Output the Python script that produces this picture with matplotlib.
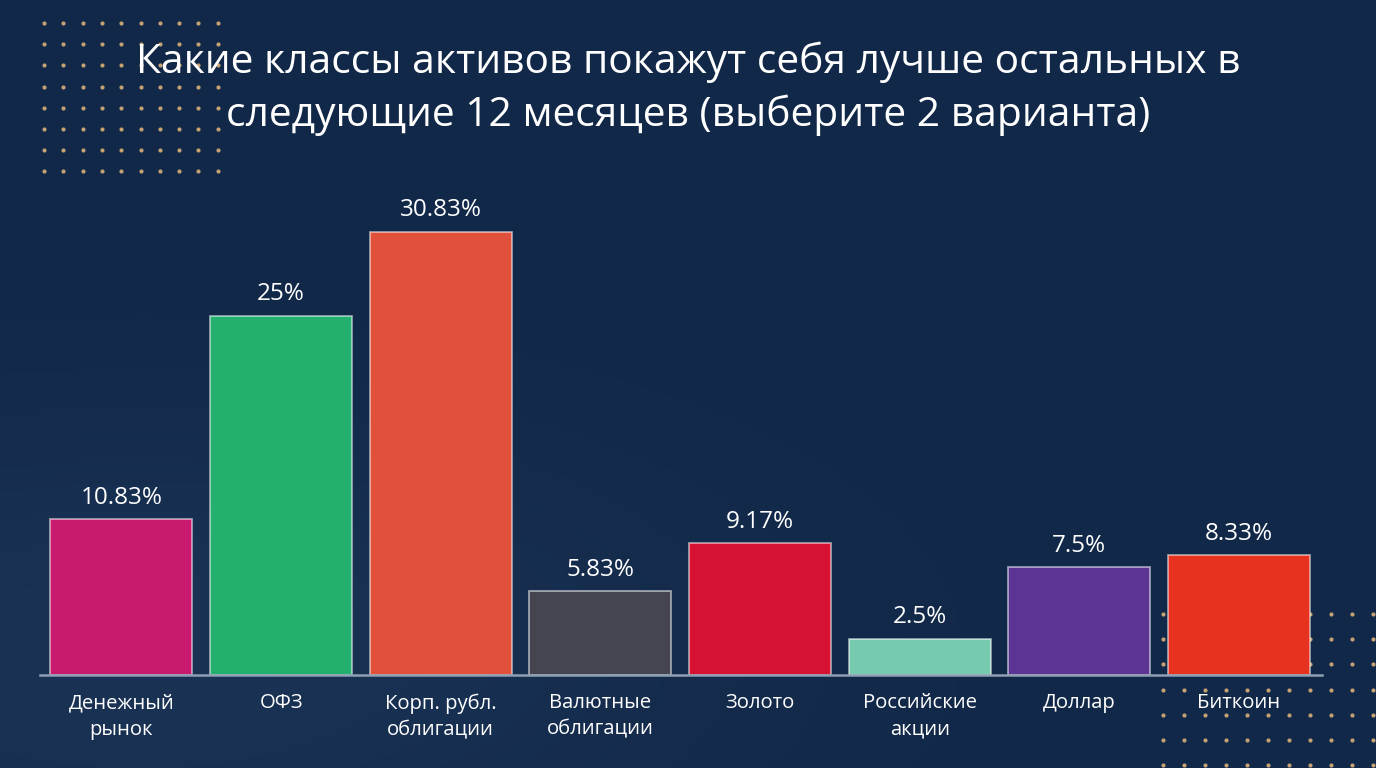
"""Bar chart: which asset classes will perform best over the next 12 months."""

import matplotlib.pyplot as plt
import numpy as np

plt.rcParams["font.family"] = ["Open Sans", "DejaVu Sans"]

# Data
categories = [
    "Денежный\nрынок",
    "ОФЗ",
    "Корп. рубл.\nоблигации",
    "Валютные\nоблигации",
    "Золото",
    "Российские\nакции",
    "Доллар",
    "Биткоин",
]
values = [10.83, 25, 30.83, 5.83, 9.17, 2.5, 7.5, 8.33]
value_labels = ["10.83%", "25%", "30.83%", "5.83%", "9.17%", "2.5%", "7.5%", "8.33%"]
colors = ["#C81A6E", "#23AF6E", "#E0503B", "#44454F", "#D51232", "#76CAAF", "#5C3594", "#E6321E"]

W, H = 1376, 768
bg = "#13294A"

fig = plt.figure(figsize=(W / 100, H / 100), dpi=100, facecolor=bg)

# Background with a subtle gradient and dot patterns
bg_ax = fig.add_axes([0, 0, 1, 1])
bg_ax.set_xlim(0, W)
bg_ax.set_ylim(H, 0)
bg_ax.axis("off")
yy, xx = np.mgrid[0:1:200j, 0:1:200j]
glow = np.exp(-((xx - 0.1) ** 2 / 0.15 + (yy - 0.85) ** 2 / 0.08))
grad = np.zeros((200, 200, 3))
base = np.array([0x12, 0x28, 0x48]) / 255
light = np.array([0x1A, 0x33, 0x55]) / 255
for c in range(3):
    grad[..., c] = base[c] + (light[c] - base[c]) * glow
bg_ax.imshow(grad, extent=[0, W, H, 0], aspect="auto", zorder=0)

dot_color = "#C4A273"
gx, gy = np.meshgrid(44 + 19.3 * np.arange(10), 23 + 21.2 * np.arange(8))
bg_ax.scatter(gx.ravel(), gy.ravel(), s=9, color=dot_color, linewidths=0, zorder=1)
gx, gy = np.meshgrid(1163 + 21 * np.arange(11), 614 + 25.2 * np.arange(7))
bg_ax.scatter(gx.ravel(), gy.ravel(), s=9, color=dot_color, linewidths=0, zorder=1)

# Title
fig.text(
    0.5, 1 - 62 / H,
    "Какие классы активов покажут себя лучше остальных в",
    ha="center", va="center", color="white", fontsize=29.3,
)
fig.text(
    0.5, 1 - 115 / H,
    "следующие 12 месяцев (выберите 2 варианта)",
    ha="center", va="center", color="white", fontsize=29.3,
)

# Bars
ax_h = 500
ax = fig.add_axes([40 / W, (H - 675) / H, 1282 / W, ax_h / H])
ax.set_facecolor("none")
x = np.arange(len(categories))
ax.bar(x, values, width=0.89, color=colors, edgecolor=(1, 1, 1, 0.55), linewidth=1.3, zorder=2)
ax.set_xlim(-0.51, 7.52)
ax.set_ylim(0, ax_h / 14.37)

for xi, v, lab in zip(x, values, value_labels):
    ax.annotate(lab, (xi, v), xytext=(0, 7), textcoords="offset points",
                ha="center", va="bottom", color="white", fontsize=17.5)

for side in ["top", "right", "left"]:
    ax.spines[side].set_visible(False)
ax.spines["bottom"].set_color("#8E9FB4")
ax.spines["bottom"].set_linewidth(1.8)
ax.set_yticks([])
ax.set_xticks(x)
ax.set_xticklabels(categories, color="white", fontsize=14.6, linespacing=1.45, va="top")
ax.tick_params(axis="x", length=0, pad=13)

fig.savefig("out.png", dpi=100, facecolor=bg)
print("saved out.png")
